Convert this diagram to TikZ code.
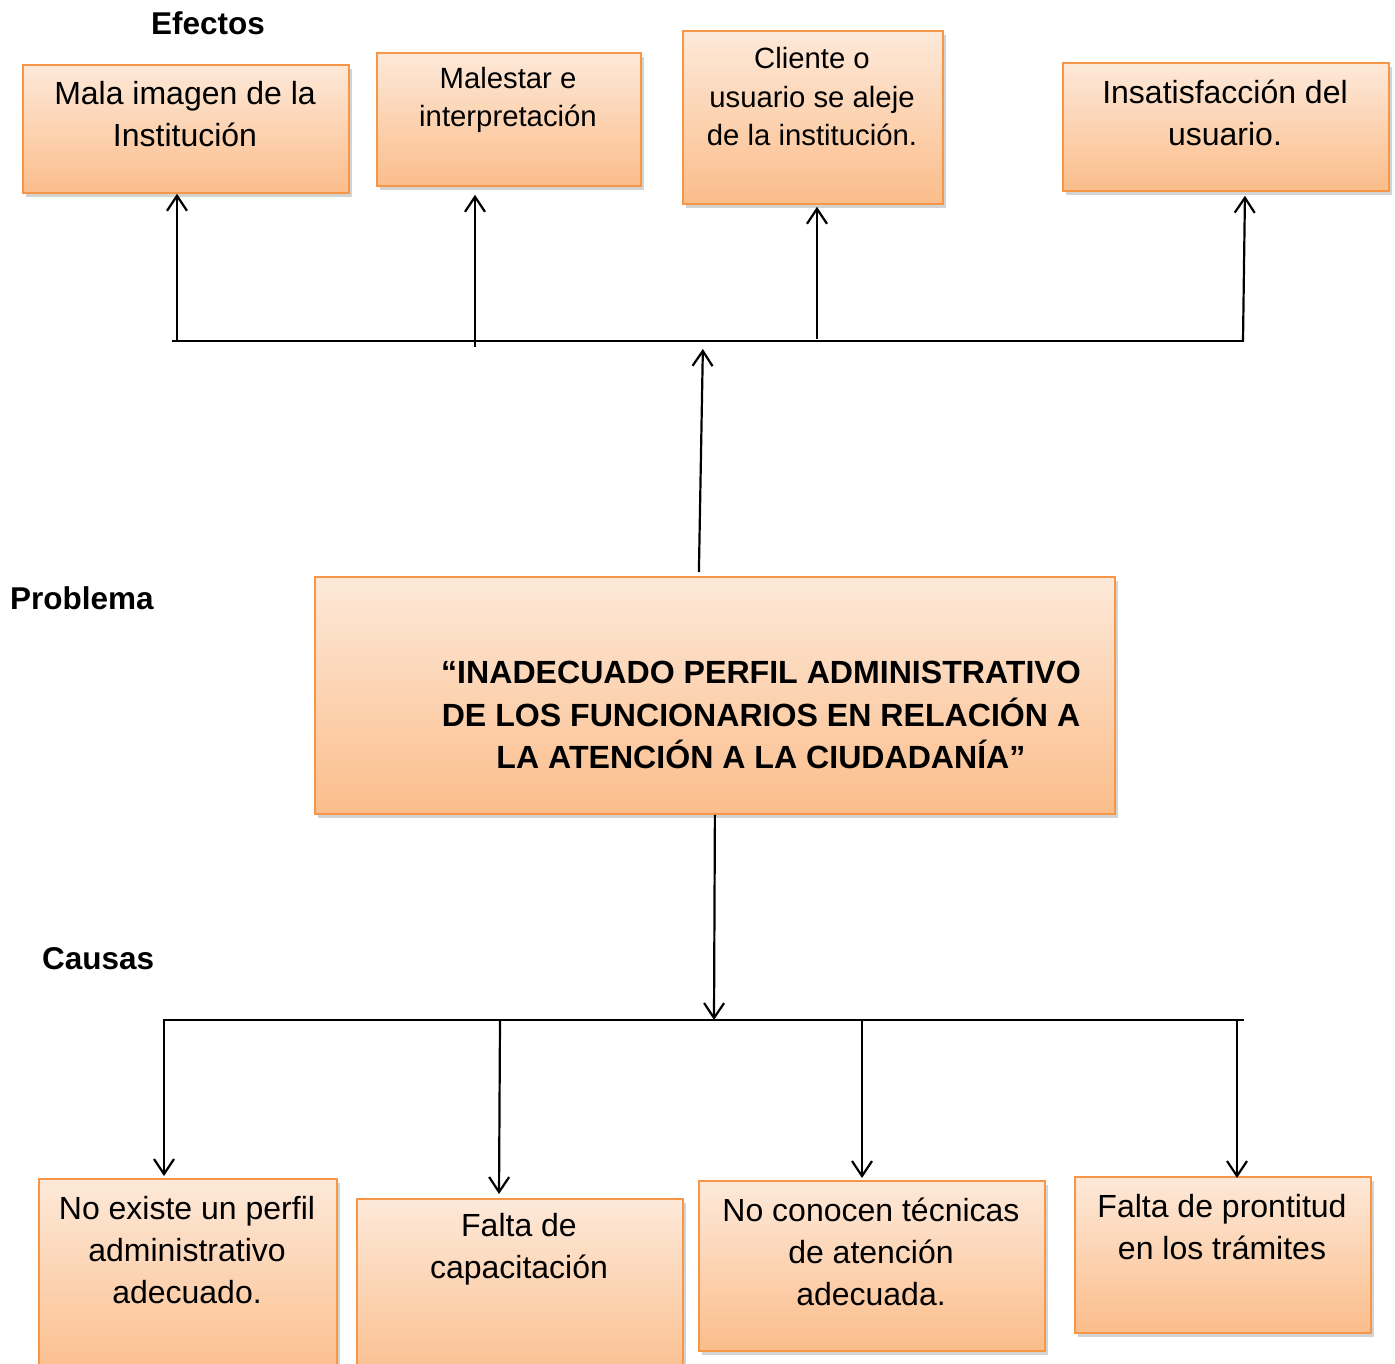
\documentclass[tikz,border=0pt]{standalone}
\usepackage{fontspec}
\setmainfont{Liberation Sans}
\usepackage{tikz}
\usetikzlibrary{arrows.meta,shadows,positioning,calc}
\definecolor{boxtop}{HTML}{FDE9D9}
\definecolor{boxbot}{HTML}{FBBD8B}
\definecolor{boxline}{HTML}{F79646}
\tikzset{obox/.style={draw=boxline,line width=1.8pt,top color=boxtop,bottom color=boxbot,inner sep=0pt,anchor=north west,
  drop shadow={opacity=0.35,shadow xshift=3pt,shadow yshift=-4pt}}}
\tikzset{btxt/.style={align=center,font=\fontsize{32}{42}\selectfont,inner sep=0pt}}
\tikzset{stxt/.style={align=center,font=\fontsize{29.3}{38.5}\selectfont,inner sep=0pt}}
\tikzset{head/.style={font=\fontsize{31.5}{38}\selectfont\bfseries,inner sep=0pt}}
\tikzset{arr/.style={line width=2.2pt,-{Straight Barb[length=15pt,width=20pt,line width=2.2pt]}}}
\tikzset{bar/.style={line width=2.2pt}}

\begin{document}
\begin{tikzpicture}[x=1pt,y=-1pt]
  \useasboundingbox (0,0) rectangle (1395,1364);

  \node[head] (lef) at (208,23) {Efectos};
  \node[head,anchor=west] (lpr) at (10,598) {Problema};
  \node[head,anchor=west] (lca) at (42,959) {Causas};

  % efectos
  \node[obox,minimum width=326,minimum height=128] (ef1) at (22,64) {};
  \node[obox,minimum width=264,minimum height=133] (ef2) at (376,52) {};
  \node[obox,minimum width=260,minimum height=173] (ef3) at (682,30) {};
  \node[obox,minimum width=326,minimum height=128] (ef4) at (1062,62) {};
  \node[btxt] (ef1t) at (185,114) {Mala imagen de la\\Institución};
  \node[stxt] (ef2t) at (508,100) {Malestar e\\interpretación};
  \node[stxt] (ef3t) at (812,97) {Cliente o\\usuario se aleje\\de la institución.};
  \node[btxt] (ef4t) at (1225,113) {Insatisfacción del\\usuario.};

  % problema
  \node[obox,minimum width=800,minimum height=237] (prob) at (314,576) {};
  \node[btxt,font=\fontsize{32.1}{42.5}\selectfont\bfseries] (probt) at (761,715)
    {“INADECUADO PERFIL ADMINISTRATIVO\\DE LOS FUNCIONARIOS EN RELACIÓN A\\LA ATENCIÓN A LA CIUDADANÍA”};

  % causas
  \node[obox,minimum width=298,minimum height=200] (ca1) at (38,1178) {};
  \node[obox,minimum width=326,minimum height=190] (ca2) at (356,1198) {};
  \node[obox,minimum width=346,minimum height=170] (ca3) at (698,1180) {};
  \node[obox,minimum width=296,minimum height=156] (ca4) at (1074,1176) {};
  \node[btxt] (ca1t) at (187,1250) {No existe un perfil\\administrativo\\adecuado.};
  \node[btxt] (ca2t) at (519,1249) {Falta de\\capacitación};
  \node[btxt] (ca3t) at (871,1252) {No conocen técnicas\\de atención\\adecuada.};
  \node[btxt] (ca4t) at (1222,1227) {Falta de prontitud\\en los trámites};

  % linea de efectos
  \coordinate (tl) at (172,341);
  \coordinate (tr) at (1244,341);
  \coordinate (hub) at (703,341);
  \draw[bar] (tl) -- (tr);
  \coordinate (u1) at (177,341);
  \coordinate (u2) at (475,347);
  \coordinate (u3) at (817,339);
  \coordinate (u4) at (1243,341);
  \draw[arr] (u1) -- (u1 |- ef1.south);
  \draw[arr,shorten >=8pt] (u2) -- (u2 |- ef2.south);
  \draw[arr,shorten >=2pt] (u3) -- (u3 |- ef3.south);
  \draw[arr,shorten >=4pt] (u4) -- ($(u4 |- ef4.south)+(2,0)$);
  \draw[arr,shorten >=8pt] ([xshift=-16pt,yshift=4pt]prob.north) -- (hub);

  % linea de causas
  \coordinate (bl) at (163,1020);
  \coordinate (br) at (1244,1020);
  \coordinate (bus) at (714,1020);
  \draw[arr] (prob.south) -- (bus);
  \draw[bar] (bl) -- (br);
  \coordinate (d1) at (164,1020);
  \coordinate (d2) at (500,1020);
  \coordinate (d3) at (862,1020);
  \coordinate (d4) at (1237,1020);
  \draw[arr,shorten >=2pt] (d1) -- (d1 |- ca1.north);
  \draw[arr,shorten >=4pt] (d2) -- ($(d2 |- ca2.north)+(-1,0)$);
  \draw[arr,shorten >=2pt] (d3) -- (d3 |- ca3.north);
  \draw[arr,shorten >=-2pt] (d4) -- (d4 |- ca4.north);
\end{tikzpicture}
\end{document}
